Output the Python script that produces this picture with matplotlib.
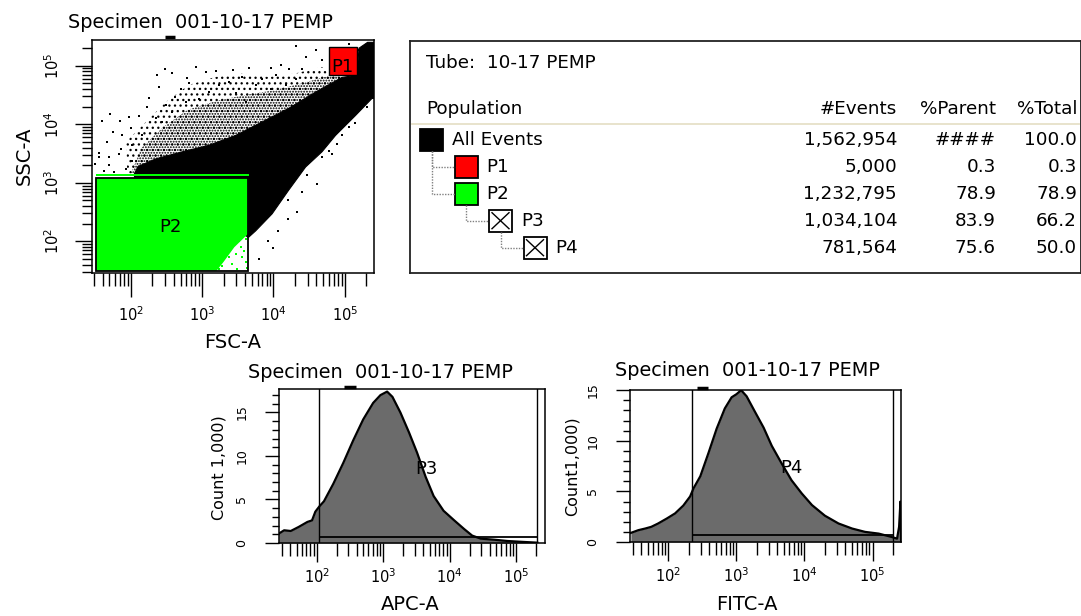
import numpy as np
import matplotlib
matplotlib.use("Agg")
import matplotlib.pyplot as plt
from matplotlib.patches import Polygon, Rectangle
from matplotlib.ticker import LogLocator, MultipleLocator, NullFormatter

plt.rcParams['font.family'] = ['DejaVu Sans']
plt.rcParams['mathtext.fontset'] = 'dejavusans'
plt.rcParams['hatch.linewidth'] = 0.9

# ======================= DATA =======================
# --- FSC-A vs SSC-A dot plot (all values are log10 of the channel value) ---
# solid (saturated) event band
band_fsc = [2.05, 2.10, 2.35, 2.72, 3.09, 3.47, 3.84, 4.21, 4.59, 4.96, 5.17, 5.20, 5.32, 5.45,
            5.45, 5.38, 5.15, 4.87, 4.68, 4.45, 4.21, 3.98, 3.75, 3.65, 3.00, 2.05]
band_ssc = [3.16, 3.28, 3.41, 3.53, 3.64, 3.81, 4.04, 4.27, 4.55, 4.80, 4.84, 5.30, 5.40, 5.40,
            4.45, 4.44, 4.15, 3.81, 3.53, 3.27, 2.87, 2.47, 2.18, 2.07, 2.50, 3.00]
# lightly speckled zone above the band
light_fsc = [1.95, 1.93, 2.21, 2.49, 2.81, 3.19, 3.56, 3.93, 4.31, 4.68, 4.80, 5.20, 5.32,
             4.96, 4.59, 4.21, 3.84, 3.47, 3.09, 2.72, 2.35, 2.10, 2.05]
light_ssc = [3.16, 3.70, 4.04, 4.38, 4.67, 4.81, 4.87, 4.81, 4.87, 4.98, 4.84, 5.30, 5.40,
             4.80, 4.55, 4.27, 4.04, 3.81, 3.64, 3.53, 3.41, 3.28, 3.16]
# densely speckled zone next to the band
dense_fsc = [2.00, 2.15, 2.45, 2.80, 3.20, 3.60, 4.00, 4.40, 4.80, 4.96, 4.59, 4.21, 3.84,
             3.47, 3.09, 2.72, 2.35, 2.10, 2.05]
dense_ssc = [3.16, 3.60, 3.95, 4.25, 4.40, 4.50, 4.58, 4.70, 4.84, 4.80, 4.55, 4.27, 4.04,
             3.81, 3.64, 3.53, 3.41, 3.28, 3.16]
# isolated events
out_fsc = [4.31, 4.59, 5.06, 5.23, 4.45, 4.68, 4.11, 4.22, 3.96, 3.65, 3.43, 3.19, 3.05, 2.91,
           2.78, 2.58, 2.48, 2.37, 2.81, 2.70, 2.62, 2.40, 2.25, 2.23, 2.11, 1.98, 1.84, 1.70,
           1.60, 1.75, 1.88, 1.67, 1.55, 2.02, 2.16, 3.37, 3.56, 3.84, 4.03, 3.75, 3.23, 3.09,
           3.47, 2.95, 4.31, 4.40, 4.17, 3.96, 2.58, 2.44, 2.35, 2.00, 1.86, 1.69, 2.49, 2.77,
           3.61, 5.15, 5.06, 4.96, 4.89, 5.31, 4.78, 4.68, 4.61, 4.47, 4.33, 4.21, 4.07, 3.93,
           4.00, 3.80, 4.21, 4.40, 4.82, 1.55, 1.69, 1.83, 1.93, 1.62, 2.02, 1.76, 1.50]
out_ssc = [5.33, 5.27, 5.38, 5.29, 5.15, 5.10, 5.02, 4.94, 4.97, 4.97, 4.92, 4.91, 4.89, 4.98,
           4.79, 4.87, 4.95, 4.84, 4.70, 4.61, 4.47, 4.64, 4.45, 4.30, 4.15, 4.13, 4.05, 4.18,
           4.05, 3.87, 3.81, 3.69, 3.51, 3.64, 3.81, 4.73, 4.81, 4.78, 4.84, 4.67, 4.67, 4.55,
           4.53, 4.44, 4.78, 4.95, 4.67, 4.61, 4.21, 4.04, 4.10, 3.93, 3.58, 3.44, 4.33, 4.38,
           4.38, 4.03, 3.95, 3.81, 3.67, 4.30, 3.55, 3.44, 2.98, 3.13, 2.50, 2.38, 2.18, 2.00,
           1.89, 1.70, 2.70, 2.84, 3.49, 3.44, 3.30, 3.49, 3.24, 3.20, 3.38, 3.18, 3.33]
# P2 events: solid region and sparse tail in the lower right corner
p2_fill_fsc = [1.505, 1.505, 3.645, 3.645, 3.45, 3.30, 3.20]
p2_fill_ssc = [1.497, 3.087, 3.087, 2.13, 1.90, 1.65, 1.497]
p2_tail_fsc = [3.61, 3.54, 3.47, 3.37, 3.56, 3.42, 3.61, 3.28, 3.49, 3.33, 3.58, 3.63, 3.51, 3.23]
p2_tail_ssc = [2.04, 1.90, 1.78, 1.73, 1.73, 1.61, 1.64, 1.58, 1.53, 1.84, 1.84, 1.55, 2.01, 1.53]
p2_band_ssc = [3.11, 3.155]
p1_gate_fsc = [4.78, 5.17]
p1_gate_ssc = [4.84, 5.32]
p2_gate_fsc = [1.505, 3.645]
p2_gate_ssc = [1.497, 3.087]
scatter_x_range = [1.454, 5.41]
scatter_y_range = [1.46, 5.44]

# --- APC-A histogram (log10 APC, count in thousands) ---
apc_log = [1.43, 1.51, 1.61, 1.73, 1.86, 1.93, 1.98, 2.04, 2.11, 2.25, 2.40, 2.55, 2.70, 2.85,
           2.96, 3.06, 3.14, 3.26, 3.39, 3.51, 3.64, 3.76, 3.91, 4.07, 4.22, 4.34, 4.47, 4.67,
           4.87, 5.12, 5.32]
apc_count = [1.08, 1.46, 1.38, 1.85, 2.42, 2.6, 3.6, 4.2, 4.8, 6.8, 9.2, 11.8, 14.2, 16.1,
             17.0, 17.4, 16.8, 15.0, 12.7, 10.4, 7.6, 5.4, 3.7, 2.6, 1.6, 0.85, 0.5, 0.38,
             0.23, 0.12, 0.04]
p3_gate = [2.035, 5.31]
p3_level = 0.69
apc_x_range = [1.433, 5.436]
apc_y_top = 17.7

# --- FITC-A histogram ---
fitc_log = [1.45, 1.56, 1.66, 1.75, 1.85, 1.98, 2.10, 2.22, 2.32, 2.37, 2.47, 2.59, 2.71, 2.83,
            2.93, 3.00, 3.07, 3.15, 3.27, 3.40, 3.52, 3.67, 3.81, 3.96, 4.11, 4.30, 4.50, 4.70,
            4.89, 5.09, 5.28, 5.36, 5.39, 5.41, 5.42]
fitc_count = [0.9, 1.17, 1.33, 1.5, 1.83, 2.33, 2.83, 3.6, 4.5, 5.3, 6.5, 8.8, 11.2, 13.2,
              14.3, 14.6, 15.0, 14.4, 12.9, 11.3, 9.5, 7.7, 6.1, 4.8, 3.65, 2.6, 1.83, 1.33,
              1.0, 0.83, 0.5, 0.33, 1.5, 4.0, 0.0]
p4_gate = [2.355, 5.295]
p4_level = 0.67
fitc_x_range = [1.437, 5.418]
fitc_y_top = 15.02

# --- population hierarchy table ---
tube_name = "10-17 PEMP"
pop_names = ["All Events", "P1", "P2", "P3", "P4"]
pop_level = [0, 1, 1, 2, 3]
pop_parent = [None, 0, 0, 2, 3]
pop_color = ["black", "#ff0000", "#00ff00", None, None]
pop_events = [1562954, 5000, 1232795, 1034104, 781564]
pop_pct_parent = [None, 0.3, 78.9, 83.9, 75.6]
pop_pct_total = [100.0, 0.3, 78.9, 66.2, 50.0]
specimen = "Specimen  001-10-17 PEMP"

# ======================= FIGURE =======================
W, H = 1081, 616
fig = plt.figure(figsize=(W / 100, H / 100), dpi=100)
fig.patch.set_facecolor("white")


def px_axes(l, t, r, b):
    return fig.add_axes([l / W, 1 - b / H, (r - l) / W, (b - t) / H])


def ftext(x, y, s, **kw):
    fig.text(x / W, 1 - y / H, s, **kw)


def lin(v):
    return 10 ** np.asarray(v, dtype=float)


def poly(ax, xs, ys, **kw):
    p = Polygon(np.column_stack([lin(xs), lin(ys)]), closed=True, **kw)
    ax.add_patch(p)
    return p


def rect_log(ax, xr, yr, **kw):
    return poly(ax, [xr[0], xr[1], xr[1], xr[0]], [yr[0], yr[0], yr[1], yr[1]], **kw)


def top_mark(ax, x0, x1):
    ax.plot([x0, x1], [1.011, 1.011], transform=ax.transAxes, color="black",
            lw=2.5, clip_on=False, solid_capstyle="butt")


def style_log_x(ax, major_len, minor_len, pad, size=10.5):
    ax.set_xscale("log")
    ax.xaxis.set_major_locator(LogLocator(base=10, numticks=20))
    ax.xaxis.set_minor_locator(LogLocator(base=10, subs=np.arange(2, 10), numticks=20))
    ax.xaxis.set_minor_formatter(NullFormatter())
    ax.tick_params(axis="x", which="major", length=major_len, width=1.0, direction="out",
                   pad=pad, labelsize=size)
    ax.tick_params(axis="x", which="minor", length=minor_len, width=1.0, direction="out")


for_spines = dict(linewidth=1.1, color="black")

# ---------------- scatter ----------------
axs = px_axes(92, 40, 374, 273)
axs.set_xscale("log")
axs.set_yscale("log")
axs.set_xlim(*lin(scatter_x_range))
axs.set_ylim(*lin(scatter_y_range))
poly(axs, light_fsc, light_ssc, fill=False, hatch="...", edgecolor="black", lw=0, zorder=1)
poly(axs, dense_fsc, dense_ssc, fill=False, hatch="......", edgecolor="black", lw=0, zorder=1)
poly(axs, band_fsc, band_ssc, facecolor="black", edgecolor="black", lw=0.8, zorder=2)
axs.scatter(lin(out_fsc), lin(out_ssc), s=1.6, marker="s", c="black", lw=0, zorder=2)
rect_log(axs, p1_gate_fsc, p1_gate_ssc, facecolor="#ff0000", edgecolor="none", zorder=3)
poly(axs, p2_fill_fsc, p2_fill_ssc, facecolor="#00ff00", edgecolor="none", zorder=3)
axs.scatter(lin(p2_tail_fsc), lin(p2_tail_ssc), s=2.0, marker="s", c="#00ff00", lw=0, zorder=3)
rect_log(axs, [p2_gate_fsc[0], p2_gate_fsc[1] + 0.01], p2_band_ssc,
         facecolor="#00ff00", edgecolor="none", zorder=3)
rect_log(axs, p1_gate_fsc, p1_gate_ssc, fill=False, edgecolor="black", lw=1.0, zorder=4)
rect_log(axs, p2_gate_fsc, p2_gate_ssc, fill=False, edgecolor="black", lw=1.3, zorder=4)
axs.text(lin(p1_gate_fsc[0] + 0.03), lin(4.98), "P1", fontsize=13, va="center", ha="left", zorder=5)
axs.text(lin(2.40), lin(2.25), "P2", fontsize=13, va="center", ha="left", zorder=5)
style_log_x(axs, 17, 9, 6.0)
axs.yaxis.set_major_locator(LogLocator(base=10, numticks=20))
axs.yaxis.set_minor_locator(LogLocator(base=10, subs=np.arange(2, 10), numticks=20))
axs.yaxis.set_minor_formatter(NullFormatter())
axs.tick_params(axis="y", which="major", length=12, width=1.0, pad=9.5, labelsize=10.5)
axs.tick_params(axis="y", which="minor", length=7, width=1.0)
for lbl in axs.get_yticklabels():
    lbl.set_rotation(90)
    lbl.set_va("center")
for s in axs.spines.values():
    s.set(**for_spines)
top_mark(axs, 0.259, 0.294)
ftext(68, 22, specimen, fontsize=13.9, ha="left", va="center")
ftext(24, 156, "SSC-A", fontsize=14, rotation=90, ha="center", va="center")
ftext(233, 343, "FSC-A", fontsize=14, ha="center", va="center")


# ---------------- histograms ----------------
def histogram(box, xr, ytop, xs, ys, gate, level, label, label_xy, title_xy, mark,
              xlabel, xlabel_xy, ylabel, ylabel_xy):
    ax = px_axes(*box)
    style_log_x(ax, 14, 9, 3.5)
    ax.set_xlim(*lin(xr))
    ax.set_ylim(0, ytop)
    ax.fill_between(lin(xs), ys, 0, color="#6b6b6b", lw=0, zorder=1)
    ax.plot(lin(xs), ys, color="black", lw=1.6, zorder=2)
    ax.axvline(lin(gate[0]), color="black", lw=1.0, zorder=3)
    ax.axvline(lin(gate[1]), color="black", lw=1.0, zorder=3)
    ax.hlines(level, lin(gate[0]), lin(gate[1]), color="black", lw=1.3, zorder=3)
    ax.text(lin(label_xy[0]), label_xy[1], label, fontsize=13, ha="left", va="center", zorder=4)
    ax.yaxis.set_major_locator(MultipleLocator(5))
    ax.yaxis.set_minor_locator(MultipleLocator(1))
    ax.tick_params(axis="y", which="major", length=10, width=1.0, pad=12, labelsize=9)
    ax.tick_params(axis="y", which="minor", length=5, width=1.0)
    for lbl in ax.get_yticklabels():
        lbl.set_rotation(90)
        lbl.set_va("center")
    for s in ax.spines.values():
        s.set(**for_spines)
    top_mark(ax, *mark)
    ftext(title_xy[0], title_xy[1], specimen, fontsize=13.9, ha="left", va="center")
    ftext(xlabel_xy[0], xlabel_xy[1], xlabel, fontsize=14, ha="center", va="center")
    ftext(ylabel_xy[0], ylabel_xy[1], ylabel, fontsize=11.5, rotation=90,
          ha="center", va="center")
    return ax


histogram((279, 389, 545, 543), apc_x_range, apc_y_top, apc_log, apc_count, p3_gate, p3_level,
          "P3", (3.49, 8.45), (248, 372), (0.244, 0.288), "APC-A", (410, 604),
          "Count 1,000)", (219, 468))
histogram((630, 390, 901, 542), fitc_x_range, fitc_y_top, fitc_log, fitc_count, p4_gate,
          p4_level, "P4", (3.64, 7.33), (615, 370), (0.246, 0.289), "FITC-A", (747, 604),
          "Count1,000)", (572, 466))

# ---------------- population table ----------------
tab = px_axes(410, 41, 1081, 273)
tab.set_xlim(0, 671)
tab.set_ylim(232, 0)
tab.set_xticks([])
tab.set_yticks([])
for s in tab.spines.values():
    s.set_linewidth(1.3)
    s.set_color("#222222")
fs = 13.2
tab.text(16, 22, "Tube:  " + tube_name, fontsize=fs, ha="left", va="center")
tab.text(16, 68, "Population", fontsize=fs, ha="left", va="center")
col_right = [487, 586, 667]
for x, h in zip(col_right, ["#Events", "%Parent", "%Total"]):
    tab.text(x, 68, h, fontsize=fs, ha="right", va="center")
tab.plot([2, 669], [83, 83], color="#e6e0c8", lw=1.3)

row_y0, row_dy = 98.7, 27.0
sq_w, sq_h = 23, 22
for i, name in enumerate(pop_names):
    y = row_y0 + i * row_dy
    left = 10 + 34.5 * pop_level[i]
    top = y - sq_h / 2
    if pop_color[i] is None:
        tab.add_patch(Rectangle((left, top), sq_w, sq_h, facecolor="white",
                                edgecolor="black", lw=1.3))
        tab.plot([left + 3, left + sq_w - 3], [top + 3, top + sq_h - 3], color="black", lw=1.0)
        tab.plot([left + 3, left + sq_w - 3], [top + sq_h - 3, top + 3], color="black", lw=1.0)
    else:
        tab.add_patch(Rectangle((left, top), sq_w, sq_h, facecolor=pop_color[i],
                                edgecolor="black", lw=1.3))
    tab.text(left + sq_w + 9, y, name, fontsize=fs, ha="left", va="center")
    par = pop_parent[i]
    if par is not None:
        py = row_y0 + par * row_dy
        pleft = 10 + 34.5 * pop_level[par]
        cx = pleft + sq_w / 2
        tab.plot([cx, cx, left], [py + sq_h / 2, y, y], color="#808080", lw=1.0,
                 linestyle=(0, (1, 1)))
    pp = "####" if pop_pct_parent[i] is None else f"{pop_pct_parent[i]:.1f}"
    vals = [f"{pop_events[i]:,}", pp, f"{pop_pct_total[i]:.1f}"]
    for x, v in zip(col_right, vals):
        tab.text(x, y, v, fontsize=fs, ha="right", va="center")

fig.savefig("out.png", dpi=100, facecolor="white")
